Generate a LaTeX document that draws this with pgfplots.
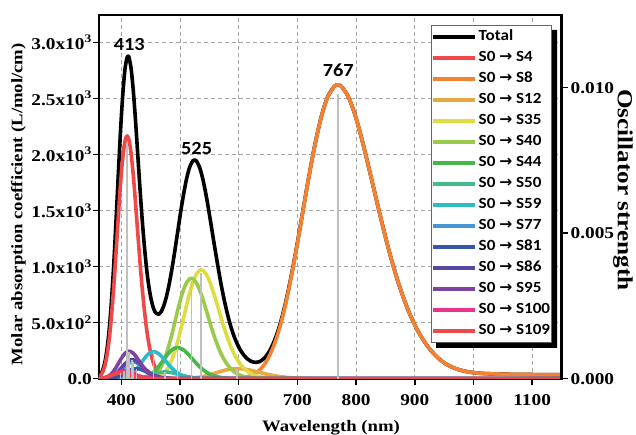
\documentclass[border=0pt]{standalone}
\usepackage{fontspec}
\setmainfont{Liberation Serif}[FakeStretch=1.17]
\newfontfamily\calfont{Carlito}[FakeStretch=1.1]
\newfontfamily\djv{DejaVu Sans}
\usepackage{pgfplots}
\pgfplotsset{compat=1.18}
\definecolor{cS4}{RGB}{239,72,72}
\definecolor{cS8}{RGB}{245,130,48}
\definecolor{cS12}{RGB}{230,168,64}
\definecolor{cS35}{RGB}{222,220,64}
\definecolor{cS40}{RGB}{155,202,74}
\definecolor{cS44}{RGB}{72,182,72}
\definecolor{cS50}{RGB}{66,186,140}
\definecolor{cS59}{RGB}{44,188,200}
\definecolor{cS77}{RGB}{70,150,214}
\definecolor{cS81}{RGB}{56,86,168}
\definecolor{cS86}{RGB}{88,70,160}
\definecolor{cS95}{RGB}{126,66,162}
\definecolor{cS100}{RGB}{232,52,140}
\definecolor{cS109}{RGB}{239,72,72}
\definecolor{stick}{RGB}{192,192,192}
\definecolor{gridc}{RGB}{165,165,165}
\newcommand{\ar}{{\djv →}}
\begin{document}
\begin{tikzpicture}
\begin{axis}[
  at={(0pt,0pt)}, anchor=south west,
  scale only axis, width=462.5pt, height=363.7pt,
  xmin=362, xmax=1150, ymin=0, ymax=3243,
  axis line style={line width=2.2pt},
  xtick={400,500,600,700,800,900,1000,1100},
  xticklabels={400,500,600,700,800,900,1000,1100},
  ytick={0,500,1000,1500,2000,2500,3000},
  yticklabels={0.0,5.0x10\textsuperscript{2},1.0x10\textsuperscript{3},1.5x10\textsuperscript{3},2.0x10\textsuperscript{3},2.5x10\textsuperscript{3},3.0x10\textsuperscript{3}},
  xtick pos=bottom, ytick pos=left,
  tick align=outside, major tick length=6pt,
  every tick/.style={black, line width=1.5pt},
  ticklabel style={font=\fontsize{16.5}{18}\selectfont\bfseries},
  yticklabel style={inner xsep=1pt},
  xticklabel style={yshift=-6pt},
  grid=major, grid style={gridc, line width=0.9pt, dash pattern=on 4pt off 3pt},
  xlabel={Wavelength (nm)},
  xlabel style={font=\fontsize{16}{18}\selectfont\bfseries, at={(axis description cs:0.5016,-0.1355)}, anchor=center},
  ylabel={Molar absorption coefficient (L/mol/cm)},
  ylabel style={font=\fontsize{16}{18}\selectfont\bfseries, at={(axis description cs:-0.174,0.48)}, anchor=center},
  legend style={name=leg, at={(1,1)}, anchor=north east, xshift=-9.5pt, yshift=-10pt,
    draw=black!60, line width=0.8pt, fill=white,
    font={\fontsize{15.5}{17}\calfont\bfseries},
    inner xsep=0pt, inner ysep=1pt, row sep=0pt,
    nodes={inner xsep=1.5pt, inner ysep=3.0pt, text height=11pt, text depth=4pt}},
  legend cell align=left,
  legend image code/.code={\draw[#1] (0pt,0pt) -- (42pt,0pt);},
  every axis plot/.append style={line width=3.6pt, no markers, smooth, line join=round},
]
\addplot[black] coordinates {(362.0,20.6) (364.7,37.1) (367.4,64.2) (370.1,106.6) (372.9,170.8) (375.7,265.0) (378.6,395.2) (381.5,567.8) (384.4,787.8) (387.5,1051.2) (390.5,1355.2) (393.6,1681.7) (396.7,2012.1) (399.9,2321.7) (403.2,2581.9) (406.5,2769.4) (409.9,2865.2) (411.6,2875.3) (413.3,2862.0) (416.8,2761.2) (420.3,2575.8) (423.9,2327.2) (427.5,2041.2) (431.2,1745.5) (435.0,1460.5) (438.9,1207.8) (442.8,994.2) (446.8,827.6) (450.9,705.7) (455.0,625.2) (459.2,582.9) (463.5,574.8) (467.9,597.3) (472.3,649.9) (476.9,732.2) (481.5,841.5) (486.2,976.7) (491.0,1134.0) (495.9,1303.8) (500.9,1478.7) (506.1,1643.7) (511.3,1784.5) (516.6,1888.3) (522.0,1943.9) (524.8,1951.0) (527.6,1943.7) (533.3,1886.3) (539.1,1775.7) (545.0,1621.8) (551.0,1436.4) (557.2,1234.6) (563.6,1033.2) (570.0,841.9) (576.7,669.5) (583.5,522.7) (590.4,403.0) (597.5,309.7) (604.8,239.0) (612.3,189.1) (619.9,158.1) (627.8,145.9) (635.8,153.0) (644.1,184.7) (652.5,245.7) (661.2,343.0) (670.2,481.2) (679.4,665.7) (688.8,896.1) (698.5,1166.6) (708.5,1468.5) (718.7,1776.1) (729.3,2071.2) (740.2,2324.7) (751.4,2510.3) (763.0,2607) (768.9,2620) (774.9,2607) (787.2,2510) (799.9,2324) (813.0,2070) (826.6,1774) (840.6,1465) (855.1,1161) (870.1,887) (885.6,652) (901.7,461) (918.4,314) (935.7,205) (953.7,129) (972.4,85) (991.9,60) (1012.1,48) (1033.2,43) (1055.2,40) (1078.1,38) (1102.1,37) (1127.1,36) (1153.3,35)};
\addlegendentry{Total}
\addplot[cS4] coordinates {(362.0,15.7) (364.7,28.4) (367.4,49.8) (370.1,83.6) (372.9,135) (375.7,211) (378.6,316) (381.5,455) (384.4,632) (387.5,842) (390.5,1083) (393.6,1338) (396.7,1591) (399.9,1821) (403.2,2005) (406.5,2124) (409.9,2165) (413.3,2124) (416.8,2005) (420.3,1821) (423.9,1591) (427.5,1338) (431.2,1083) (435.0,842) (438.9,632) (442.8,455) (446.8,316) (450.9,211) (455.0,135) (459.2,83.6) (463.5,49.8) (467.9,28.4) (472.3,15.7) (476.9,8.3) (481.5,4.2) (486.2,2.1) (491.0,1.0) (500,0.2) (1150,0)};
\addlegendentry{S0 \ar{} S4}
\addplot[cS8] coordinates {(362,0) (560,0) (576.7,0.4) (583.5,0.8) (590.4,1.7) (597.5,3.6) (604.8,7.2) (612.3,13.9) (619.9,25.6) (627.8,46) (635.8,78) (644.1,129) (652.5,205) (661.2,314) (670.2,461) (679.4,652) (688.8,887) (698.5,1161) (708.5,1465) (718.7,1774) (729.3,2070) (740.2,2324) (751.4,2510) (763.0,2607) (768.9,2620) (774.9,2607) (787.2,2510) (799.9,2324) (813.0,2070) (826.6,1774) (840.6,1465) (855.1,1161) (870.1,887) (885.6,652) (901.7,461) (918.4,314) (935.7,205) (953.7,129) (972.4,85) (991.9,60) (1012.1,48) (1033.2,43) (1055.2,40) (1078.1,38) (1102.1,37) (1127.1,36) (1153.3,35)};
\addlegendentry{S0 \ar{} S8}
\addplot[cS12] coordinates {(362,0) (480,0) (495.9,0.3) (500.9,0.6) (506.1,1.2) (511.3,2.1) (516.6,3.5) (522.0,5.6) (527.6,8.8) (533.3,13.1) (539.1,18.9) (545.0,26.3) (551.0,35.0) (557.2,45.0) (563.6,55.6) (570.0,66.2) (576.7,75.7) (583.5,83.3) (590.4,88.3) (597.5,90) (604.8,88.3) (612.3,83.3) (619.9,75.7) (627.8,66.2) (635.8,55.6) (644.1,45.0) (652.5,35.0) (661.2,26.3) (670.2,18.9) (679.4,13.1) (688.8,8.8) (698.5,5.6) (708.5,3.5) (718.7,2.1) (729.3,1.2) (740.2,0.65) (751.4,0.34) (770,0) (1150,0)};
\addlegendentry{S0 \ar{} S12}
\addplot[cS35] coordinates {(362,0) (430,0) (442.8,0.6) (446.8,1.3) (450.9,2.7) (455.0,5.1) (459.2,9.5) (463.5,16.9) (467.9,29) (472.3,48) (476.9,76) (481.5,116) (486.2,171) (491.0,241) (495.9,328) (500.9,430) (506.1,542) (511.3,657) (516.6,766) (522.0,860) (527.6,929) (533.3,965) (536.1,970) (539.1,965) (545.0,929) (551.0,860) (557.2,766) (563.6,657) (570.0,542) (576.7,430) (583.5,328) (590.4,241) (597.5,171) (604.8,116) (612.3,76) (619.9,48) (627.8,29) (635.8,16.9) (644.1,9.5) (652.5,5.1) (661.2,2.7) (670.2,1.3) (679.4,0.6) (695,0) (1150,0)};
\addlegendentry{S0 \ar{} S35}
\addplot[cS40] coordinates {(362,0) (420,0) (431.2,0.6) (435.0,1.2) (438.9,2.5) (442.8,4.7) (446.8,8.8) (450.9,15.6) (455.0,27) (459.2,44) (463.5,70) (467.9,107) (472.3,157) (476.9,223) (481.5,303) (486.2,396) (491.0,500) (495.9,606) (500.9,707) (506.1,794) (511.3,857) (516.6,891) (519.3,895) (522.0,891) (527.6,857) (533.3,794) (539.1,707) (545.0,606) (551.0,500) (557.2,396) (563.6,303) (570.0,223) (576.7,157) (583.5,107) (590.4,70) (597.5,44) (604.8,27) (612.3,15.6) (619.9,8.8) (627.8,4.7) (635.8,2.5) (644.1,1.2) (652.5,0.6) (665,0) (1150,0)};
\addlegendentry{S0 \ar{} S40}
\addplot[cS44] coordinates {(362,0) (410,0) (420.3,0.54) (423.9,1.06) (427.5,2.0) (431.2,3.6) (435.0,6.4) (438.9,10.7) (442.8,17.3) (446.8,27) (450.9,40.4) (455.0,58.2) (459.2,80.9) (463.5,107.8) (467.9,138.5) (472.3,171.2) (476.9,203.6) (481.5,233) (486.2,256.5) (491.0,272) (495.9,277) (500.9,272) (506.1,256.5) (511.3,233) (516.6,203.6) (522.0,171.2) (527.6,138.5) (533.3,107.8) (539.1,80.9) (545.0,58.2) (551.0,40.4) (557.2,27) (563.6,17.3) (570.0,10.7) (576.7,6.4) (583.5,3.6) (590.4,2.0) (597.5,1.06) (604.8,0.54) (615,0) (1150,0)};
\addlegendentry{S0 \ar{} S44}
\addplot[cS50] coordinates {(362,0) (405,0) (413.3,0.6) (416.8,1.0) (420.3,1.8) (423.9,3.0) (427.5,4.7) (431.2,7.2) (435.0,10.6) (438.9,14.9) (442.8,20.3) (446.8,26.6) (450.9,33.5) (455.0,40.6) (459.2,47.4) (463.5,53.2) (467.9,57.5) (472.3,59.7) (474.6,60) (476.9,59.7) (481.5,57.5) (486.2,53.2) (491.0,47.4) (495.9,40.6) (500.9,33.5) (506.1,26.6) (511.3,20.3) (516.6,14.9) (522.0,10.6) (527.6,7.2) (533.3,4.7) (539.1,3.0) (545.0,1.8) (551.0,1.0) (557.2,0.6) (566,0) (1150,0)};
\addlegendentry{S0 \ar{} S50}
\addplot[cS59] coordinates {(362,0) (382,0) (390.5,0.47) (393.6,0.92) (396.7,1.74) (399.9,3.2) (403.2,5.5) (406.5,9.3) (409.9,15.1) (413.3,23.4) (416.8,35.1) (420.3,50.6) (423.9,70.4) (427.5,93.7) (431.2,120.5) (435.0,148.9) (438.9,177.1) (442.8,202.7) (446.8,223.2) (450.9,236.4) (455.0,241) (459.2,236.4) (463.5,223.2) (467.9,202.7) (472.3,177.1) (476.9,148.9) (481.5,120.5) (486.2,93.7) (491.0,70.4) (495.9,50.6) (500.9,35.1) (506.1,23.4) (511.3,15.1) (516.6,9.3) (522.0,5.5) (527.6,3.2) (533.3,1.74) (539.1,0.92) (545.0,0.47) (555,0) (1150,0)};
\addlegendentry{S0 \ar{} S59}
\addplot[cS77] coordinates {(362,0) (367.4,0.6) (370.1,1.1) (372.9,2.0) (375.7,3.5) (378.6,5.8) (381.5,9.4) (384.4,14.6) (387.5,21.9) (390.5,31.5) (393.6,43.8) (396.7,58.4) (399.9,75) (403.2,92.7) (406.5,110.3) (409.9,126.2) (413.3,138.9) (416.8,147.2) (420.3,150) (423.9,147.2) (427.5,138.9) (431.2,126.2) (435.0,110.3) (438.9,92.7) (442.8,75) (446.8,58.4) (450.9,43.8) (455.0,31.5) (459.2,21.9) (463.5,14.6) (467.9,9.4) (472.3,5.8) (476.9,3.5) (481.5,2.0) (486.2,1.1) (491.0,0.6) (500,0) (1150,0)};
\addlegendentry{S0 \ar{} S77}
\addplot[cS81] coordinates {(362,0) (372.9,0.5) (375.7,0.9) (378.6,1.6) (381.5,2.7) (384.4,4.4) (387.5,7.1) (390.5,10.8) (393.6,15.8) (396.7,22.4) (399.9,30.5) (403.2,39.9) (406.5,50.3) (409.9,60.9) (413.3,71.1) (416.8,79.8) (420.3,86.2) (423.9,89.6) (425.7,90) (427.5,89.6) (431.2,86.2) (435.0,79.8) (438.9,71.1) (442.8,60.9) (446.8,50.3) (450.9,39.9) (455.0,30.5) (459.2,22.4) (463.5,15.8) (467.9,10.8) (472.3,7.1) (476.9,4.4) (481.5,2.7) (486.2,1.6) (491.0,0.9) (495.9,0.5) (505,0) (1150,0)};
\addlegendentry{S0 \ar{} S81}
\addplot[cS86] coordinates {(362,0.2) (364.7,0.5) (367.4,0.9) (370.1,1.7) (372.9,3.0) (375.7,5.1) (378.6,8.4) (381.5,13.3) (384.4,20.3) (387.5,29.9) (390.5,42.3) (393.6,57.5) (396.7,75.3) (399.9,95) (403.2,115.1) (406.5,134.3) (409.9,150.8) (413.3,162.9) (416.8,169.2) (418.5,170) (420.3,169.2) (423.9,162.9) (427.5,150.8) (431.2,134.3) (435.0,115.1) (438.9,95) (442.8,75.3) (446.8,57.5) (450.9,42.3) (455.0,29.9) (459.2,20.3) (463.5,13.3) (467.9,8.4) (472.3,5.1) (476.9,3.0) (481.5,1.7) (486.2,0.9) (491.0,0.5) (500,0) (1150,0)};
\addlegendentry{S0 \ar{} S86}
\addplot[cS95] coordinates {(362.0,0.9) (364.7,1.8) (367.4,3.2) (370.1,5.6) (372.9,9.5) (375.7,15.3) (378.6,23.8) (381.5,35.7) (384.4,51.5) (387.5,71.5) (390.5,95.3) (393.6,122.5) (396.7,151.4) (399.9,180.1) (403.2,206) (406.5,226.9) (409.9,240.3) (413.3,245) (416.8,240.3) (420.3,226.9) (423.9,206) (427.5,180.1) (431.2,151.4) (435.0,122.5) (438.9,95.3) (442.8,71.5) (446.8,51.5) (450.9,35.7) (455.0,23.8) (459.2,15.3) (463.5,9.5) (467.9,5.6) (472.3,3.2) (476.9,1.8) (481.5,0.9) (486.2,0.5) (495,0) (1150,0)};
\addlegendentry{S0 \ar{} S95}
\addplot[cS100] coordinates {(362.0,1.2) (364.7,2.1) (367.4,3.5) (370.1,5.5) (372.9,8.4) (375.7,12.3) (378.6,17.4) (381.5,23.7) (384.4,31.0) (387.5,39.1) (390.5,47.4) (393.6,55.3) (396.7,62.1) (399.9,67.1) (403.2,69.7) (404.9,70) (406.5,69.7) (409.9,67.1) (413.3,62.1) (416.8,55.3) (420.3,47.4) (423.9,39.1) (427.5,31.0) (431.2,23.7) (435.0,17.4) (438.9,12.3) (442.8,8.4) (446.8,5.5) (450.9,3.5) (455.0,2.1) (459.2,1.2) (463.5,0.7) (472,0) (1150,0)};
\addlegendentry{S0 \ar{} S100}
\addplot[cS109] coordinates {(362.0,2.5) (364.7,3.9) (367.4,6.0) (370.1,8.8) (372.9,12.4) (375.7,16.9) (378.6,22.2) (381.5,28.0) (384.4,33.9) (387.5,39.5) (390.5,44.4) (393.6,47.9) (396.7,49.8) (398.3,50) (399.9,49.8) (403.2,47.9) (406.5,44.4) (409.9,39.5) (413.3,33.9) (416.8,28.0) (420.3,22.2) (423.9,16.9) (427.5,12.4) (431.2,8.8) (435.0,6.0) (438.9,3.9) (442.8,2.5) (446.8,1.5) (450.9,0.9) (455.0,0.5) (465,0) (1150,0)};
\addlegendentry{S0 \ar{} S109}
\node[font={\fontsize{18.5}{20}\calfont\bfseries}] at (axis cs:413.6,2977) {413};
\node[font={\fontsize{18.5}{20}\calfont\bfseries}] at (axis cs:528.3,2055) {525};
\node[font={\fontsize{18.5}{20}\calfont\bfseries}] at (axis cs:769.6,2754) {767};
\end{axis}
\begin{axis}[
  at={(0pt,0pt)}, anchor=south west,
  scale only axis, width=462.5pt, height=363.7pt,
  xmin=362, xmax=1150, ymin=0, ymax=0.0125,
  axis x line=none, axis y line*=right,
  axis line style={line width=2.2pt},
  ytick={0,0.005,0.01}, yticklabels={0.000,0.005,0.010},
  scaled y ticks=false,
  tick align=outside, major tick length=6pt,
  every tick/.style={black, line width=1.5pt},
  ticklabel style={font=\fontsize{16.5}{18}\selectfont\bfseries},
  yticklabel style={inner xsep=3pt},
  ylabel={Oscillator strength},
  ylabel style={font=\fontsize{21.5}{23}\selectfont\bfseries, at={(axis description cs:1.133,0.519)}, anchor=center, rotate=180},
]
\addplot[ycomb, stick, line width=1.6pt, no markers] coordinates {(398.3,0.000187) (404.9,0.000262) (409.9,0.00810) (413.3,0.000916) (418.5,0.000636) (420.3,0.000561) (425.7,0.000337) (455.0,0.000901) (474.6,0.000224) (495.9,0.00104) (519.3,0.00335) (536.1,0.00363) (597.5,0.000337) (768.9,0.00980)};
\end{axis}
\fill[black] ([xshift=5pt]leg.south west) -- ([xshift=5pt,yshift=-5pt]leg.south west) -- ([xshift=5pt,yshift=-5pt]leg.south east) -- ([xshift=5pt,yshift=-5pt]leg.north east) -- ([yshift=-5pt]leg.north east) -- (leg.south east) -- cycle;
\pgfresetboundingbox
\path[use as bounding box] (-99pt,-55.3pt) rectangle (537pt,378.7pt);
\end{tikzpicture}
\end{document}
